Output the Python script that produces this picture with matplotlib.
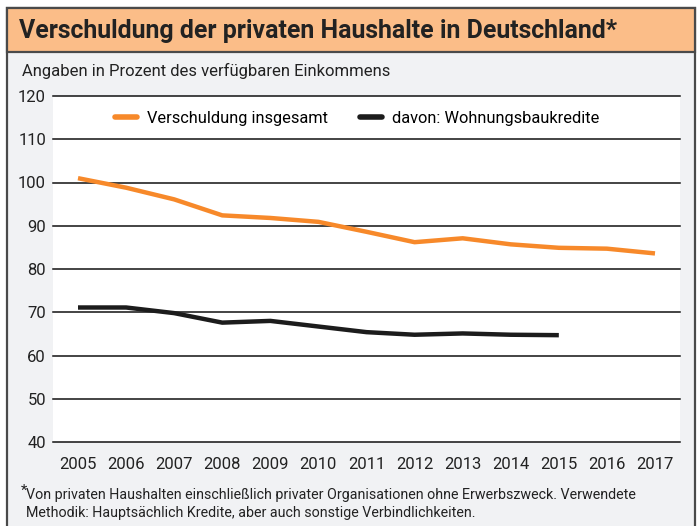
import matplotlib
matplotlib.use("Agg")
import matplotlib.pyplot as plt
from matplotlib.patches import Rectangle
from matplotlib.lines import Line2D

# -------- data --------
years = [2005, 2006, 2007, 2008, 2009, 2010, 2011, 2012, 2013, 2014, 2015, 2016, 2017]
total_debt = [101.0, 98.8, 96.1, 92.4, 91.8, 90.9, 88.6, 86.2, 87.1, 85.7, 84.9, 84.7, 83.6]
housing_years = years[:11]
housing_loans = [71.1, 71.1, 69.8, 67.6, 68.0, 66.7, 65.4, 64.8, 65.1, 64.8, 64.7]
y_ticks = [40, 50, 60, 70, 80, 90, 100, 110, 120]

orange = "#f7892a"
black = "#1c1c1c"
bg_grey = "#f1f2f4"
title_fill = "#fbbd88"
border = "#4a4a4a"
ink = "#222222"

W, H = 699, 526
plt.rcParams["font.family"] = ["Roboto", "DejaVu Sans"]

fig = plt.figure(figsize=(W / 100, H / 100), dpi=100)
fig.patch.set_facecolor("white")

def fx(px):
    return px / W

def fy(py):
    return 1 - py / H

# outer frame + grey panel
fig.add_artist(Rectangle((fx(7), fy(530)), fx(695) - fx(7), fy(8) - fy(530),
                         transform=fig.transFigure, facecolor=bg_grey,
                         edgecolor=border, linewidth=1.6, zorder=0))
# title box
fig.add_artist(Rectangle((fx(7), fy(52)), fx(695) - fx(7), fy(8) - fy(52),
                         transform=fig.transFigure, facecolor=title_fill,
                         edgecolor=border, linewidth=1.6, zorder=1))

fig.text(fx(19), fy(31), "Verschuldung der privaten Haushalte in Deutschland*",
         fontsize=17.9, fontweight="bold", color=ink, va="center", ha="left")
fig.text(fx(22), fy(71), "Angaben in Prozent des verfügbaren Einkommens",
         fontsize=12, color=ink, va="center", ha="left")

# -------- plot area --------
ax = fig.add_axes([fx(53), fy(442), fx(680) - fx(53), fy(96) - fy(442)])
ax.set_facecolor("white")
ax.set_zorder(2)

ax.plot(years, total_debt, color=orange, linewidth=3.2, solid_capstyle="butt", zorder=3)
ax.plot(housing_years, housing_loans, color=black, linewidth=3.2, solid_capstyle="butt", zorder=3)

ax.set_xlim(2004.48, 2017.52)
ax.set_ylim(40, 120)
ax.set_yticks(y_ticks)
ax.set_xticks(years)
ax.set_xticklabels([str(y) for y in years])
for yv in y_ticks:
    ax.axhline(yv, color="#111111", linewidth=1.1, zorder=2, clip_on=False)

for s in ax.spines.values():
    s.set_visible(False)
ax.tick_params(axis="both", length=0, labelsize=12, colors=ink)
ax.tick_params(axis="y", pad=5)
ax.tick_params(axis="x", pad=11)

# legend
handles = [
    Line2D([0], [0], color=orange, linewidth=4, solid_capstyle="round", label="Verschuldung insgesamt"),
    Line2D([0], [0], color=black, linewidth=4, solid_capstyle="round", label="davon: Wohnungsbaukredite"),
]
ax.legend(handles=handles, loc="upper center", bbox_to_anchor=(0.485, 0.99), ncol=2,
          frameon=False, fontsize=11.8, handlelength=1.35, handletextpad=0.6,
          columnspacing=2.0, borderaxespad=0.3)

# footnote
fig.text(fx(21), fy(491), "*", fontsize=10.5, color=ink, va="center", ha="left")
fig.text(fx(26), fy(495),
         "Von privaten Haushalten einschließlich privater Organisationen ohne Erwerbszweck. Verwendete",
         fontsize=10.25, color=ink, va="center", ha="left")
fig.text(fx(26), fy(513), "Methodik: Hauptsächlich Kredite, aber auch sonstige Verbindlichkeiten.",
         fontsize=10.25, color=ink, va="center", ha="left")

fig.savefig("out.png", dpi=100)
